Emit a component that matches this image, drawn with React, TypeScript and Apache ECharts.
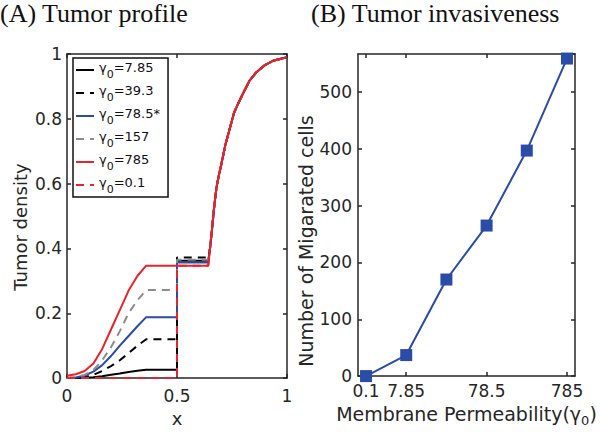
import React, { useEffect, useRef } from "react";
import * as echarts from "echarts";

// ---- Data ----
// (A) Tumor profile: x positions for the left part of each profile
const profX = [0, 0.04, 0.08, 0.12, 0.16, 0.2, 0.24, 0.28, 0.32, 0.36, 0.5, 0.5, 0.642];
const rho7_85 = [0, 0, 0.001, 0.003, 0.006, 0.01, 0.014, 0.019, 0.023, 0.026, 0.026, 0.362, 0.362];
const rho39_3 = [0, 0, 0.003, 0.01, 0.022, 0.037, 0.055, 0.077, 0.1, 0.12, 0.12, 0.372, 0.372];
const rho78_5 = [0, 0.002, 0.008, 0.02, 0.04, 0.068, 0.1, 0.13, 0.16, 0.188, 0.188, 0.357, 0.357];
const rho157 = [0, 0.003, 0.01, 0.025, 0.055, 0.095, 0.145, 0.2, 0.24, 0.272, 0.272, 0.365, 0.365];
const rho785 = [0.007, 0.012, 0.022, 0.045, 0.09, 0.15, 0.21, 0.27, 0.315, 0.347, 0.347, 0.347, 0.347];
const rho0_1 = [0, 0, 0, 0, 0, 0, 0, 0, 0, 0, 0, 0.347, 0.347];
// shared steep rise on the right of the domain
const riseX = [0.65, 0.66, 0.67, 0.68, 0.69, 0.7, 0.72, 0.74, 0.76, 0.78, 0.8, 0.83, 0.86, 0.9, 0.94, 1.0];
const riseY = [0.4, 0.465, 0.535, 0.59, 0.625, 0.655, 0.72, 0.77, 0.82, 0.85, 0.878, 0.918, 0.943, 0.966, 0.98, 0.99];
const legendLabels = ["7.85", "39.3", "78.5*", "157", "785", "0.1"];
const profiles = [rho7_85, rho39_3, rho78_5, rho157, rho785, rho0_1];

// (B) Tumor invasiveness
const permLabels = ["0.1", "7.85", "39.3", "78.5", "157", "785"];
const permTickIdx = [0, 1, 3, 5];
const migrated = [0, 37, 170, 265, 397, 559];

// ---- Styles ----
const SANS = "DejaVu Sans";
const SERIF = "Liberation Serif";
const AX = "#262626";
const BLUE = "#2B4BA8";
const RED = "#E8232A";
const GRAY = "#8C8C8C";
const profileStyles = [
  { color: "#000000", type: "solid" },
  { color: "#000000", type: [8, 6] },
  { color: BLUE, type: "solid" },
  { color: GRAY, type: [8, 6] },
  { color: RED, type: "solid" },
  { color: RED, type: [8, 6] },
];

const lineStyleAx = { color: AX, width: 1.5 };

function frameAxis(extra: any) {
  return {
    type: "value",
    splitLine: { show: false },
    axisLine: { show: true, onZero: false, lineStyle: lineStyleAx },
    axisTick: { show: true, inside: true, length: 4, lineStyle: lineStyleAx },
    ...extra,
  };
}

const tickLabel = { fontFamily: SANS, fontSize: 17, color: AX };

export default function App() {
  const ref = useRef<HTMLDivElement>(null);
  useEffect(() => {
    if (!ref.current) return;
    const chart = echarts.init(ref.current, undefined, { renderer: "svg" });

    const profileSeries = profiles.map((ys, k) => ({
      type: "line",
      name: legendLabels[k],
      xAxisIndex: 0,
      yAxisIndex: 0,
      symbol: "none",
      data: profX
        .map((x, i) => [x, ys[i]])
        .concat(riseX.map((x, i) => [x, riseY[i]])),
      lineStyle: { width: 2, color: profileStyles[k].color, type: profileStyles[k].type },
      itemStyle: { color: profileStyles[k].color },
      z: 2 + k,
    }));

    const option: any = {
      animation: false,
      backgroundColor: "#ffffff",
      title: [
        {
          text: "(A) Tumor profile",
          left: 0,
          top: 0,
          padding: 0,
          textStyle: { fontFamily: SERIF, fontSize: 26, fontWeight: "normal", color: "#111" },
        },
        {
          text: "(B) Tumor invasiveness",
          left: 311,
          top: 0,
          padding: 0,
          textStyle: { fontFamily: SERIF, fontSize: 26, fontWeight: "normal", color: "#111" },
        },
      ],
      legend: {
        data: legendLabels,
        orient: "vertical",
        left: 73,
        top: 58,
        padding: [3, 8, 2, 2],
        itemWidth: 18,
        itemHeight: 10,
        itemGap: 4,
        backgroundColor: "#ffffff",
        borderColor: "#111",
        borderWidth: 1.5,
        borderRadius: 0,
        selectedMode: false,
        itemStyle: { opacity: 0, borderWidth: 0 },
        formatter: (name: string) => `{a|γ}{s|0}{a|=${name}}`,
        textStyle: {
          fontFamily: SANS,
          fontSize: 13,
          color: "#111",
          rich: {
            a: { fontFamily: SANS, fontSize: 13, color: "#111", verticalAlign: "top", lineHeight: 18 },
            s: { fontFamily: SANS, fontSize: 11, color: "#111", verticalAlign: "top", lineHeight: 12, padding: [8, 0, 0, 0] },
          },
        },
      },
      grid: [
        { left: 67, top: 54, width: 220, height: 331 },
        { left: 358, top: 54, width: 217, height: 328 },
      ],
      xAxis: [
        frameAxis({
          gridIndex: 0,
          position: "bottom",
          min: 0,
          max: 1,
          interval: 0.5,
          axisLabel: { ...tickLabel, margin: 9 },
          name: "x",
          nameLocation: "middle",
          nameGap: 29,
          nameTextStyle: { fontFamily: SANS, fontSize: 18, color: AX, lineHeight: 18 },
        }),
        frameAxis({ gridIndex: 0, position: "top", min: 0, max: 1, interval: 0.5, axisLabel: { show: false } }),
        frameAxis({
          gridIndex: 1,
          position: "bottom",
          min: -0.2,
          max: 5.2,
          axisTick: { show: true, inside: true, length: 4, lineStyle: lineStyleAx, customValues: permTickIdx },
          axisLabel: {
            ...tickLabel,
            margin: 6,
            customValues: permTickIdx,
            formatter: (v: number) => permLabels[Math.round(v)],
          },
          name: "{a|Membrane Permeability(}{a|γ}{s|0}{a|)}",
          nameLocation: "middle",
          nameGap: 27,
          nameTextStyle: {
            fontFamily: SANS,
            fontSize: 19,
            color: AX,
            rich: {
              a: { fontFamily: SANS, fontSize: 19, color: AX, verticalAlign: "top", lineHeight: 20 },
              s: { fontFamily: SANS, fontSize: 13, color: AX, verticalAlign: "top", lineHeight: 15, padding: [10, 0, 0, 0] },
            },
          },
        }),
        frameAxis({
          gridIndex: 1,
          position: "top",
          min: -0.2,
          max: 5.2,
          axisTick: { show: true, inside: true, length: 4, lineStyle: lineStyleAx, customValues: permTickIdx },
          axisLabel: { show: false },
        }),
      ],
      yAxis: [
        frameAxis({
          gridIndex: 0,
          position: "left",
          min: 0,
          max: 1,
          interval: 0.2,
          axisLabel: { ...tickLabel, margin: 5 },
          name: "Tumor density",
          nameLocation: "middle",
          nameGap: 38,
          nameTextStyle: { fontFamily: SANS, fontSize: 18, color: AX, lineHeight: 18, padding: [0, 22, 0, 0] },
        }),
        frameAxis({ gridIndex: 0, position: "right", min: 0, max: 1, interval: 0.2, axisLabel: { show: false } }),
        frameAxis({
          gridIndex: 1,
          position: "left",
          min: 0,
          max: 567,
          interval: 100,
          axisLabel: { ...tickLabel, margin: 6, showMaxLabel: false },
          name: "Number of Migarated cells",
          nameLocation: "middle",
          nameGap: 36,
          nameTextStyle: { fontFamily: SANS, fontSize: 19, color: AX, lineHeight: 19, padding: [0, 52, 0, 0] },
        }),
        frameAxis({ gridIndex: 1, position: "right", min: 0, max: 567, interval: 100, axisLabel: { show: false } }),
      ],
      series: [
        ...profileSeries,
        {
          type: "line",
          name: "Migrated",
          xAxisIndex: 2,
          yAxisIndex: 2,
          data: migrated.map((v, i) => [i, v]),
          symbol: "rect",
          symbolSize: 12,
          itemStyle: { color: BLUE },
          lineStyle: { color: BLUE, width: 2 },
          clip: false,
          z: 3,
        },
      ],
    };
    chart.setOption(option);
    return () => chart.dispose();
  }, []);
  return (
    <div
      ref={ref}
      style={{ position: "fixed", left: 0, top: 0, width: 600, height: 432, background: "#fff" }}
    />
  );
}
